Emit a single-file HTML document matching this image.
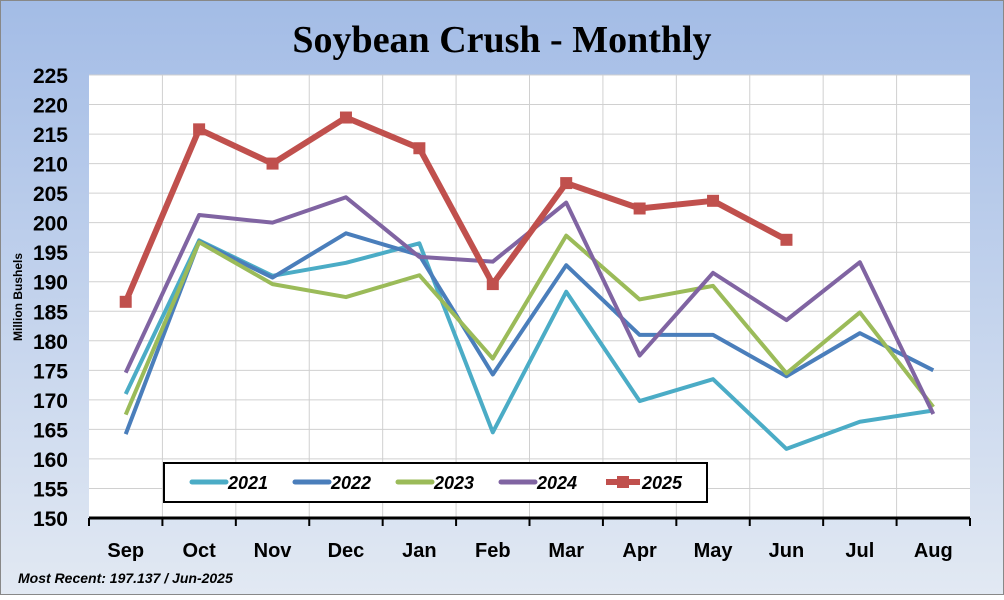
<!DOCTYPE html>
<html><head><meta charset="utf-8"><style>
body{margin:0;}
svg text{font-family:"Liberation Sans",sans-serif;}
</style></head><body>
<svg id="c" width="1004" height="595" xmlns="http://www.w3.org/2000/svg">
<defs><linearGradient id="bg" x1="0" y1="0" x2="0" y2="1"><stop offset="0" stop-color="#a3bce6"/><stop offset="1" stop-color="#e2e9f3"/></linearGradient></defs>
<rect x="0.5" y="0.5" width="1003" height="594" fill="url(#bg)" stroke="#888"/>
<text x="502" y="52" text-anchor="middle" font-size="38" font-weight="bold" style="font-family:'Liberation Serif',serif">Soybean Crush - Monthly</text>
<rect x="89" y="75" width="881" height="443" fill="#fff"/>
<g id="grid"></g>
<g id="axes"></g>
<g id="series"></g>
<text transform="translate(22,297) rotate(-90)" text-anchor="middle" font-size="12" font-weight="bold">Million Bushels</text>
<text x="18" y="583" font-size="14" font-weight="bold" font-style="italic">Most Recent: 197.137  / Jun-2025</text>
<g id="legend"></g>
</svg>
<script>
const categories=["Sep","Oct","Nov","Dec","Jan","Feb","Mar","Apr","May","Jun","Jul","Aug"];
const yTicks=[150,155,160,165,170,175,180,185,190,195,200,205,210,215,220,225];
const seriesNames=["2021","2022","2023","2024","2025"];
const seriesColors=["#4bacc6","#4a7ebb","#9bbb59","#8064a2","#c0504d"];
const s2021=[171,197,191,193.2,196.5,164.5,188.3,169.8,173.5,161.7,166.3,168.2];
const s2022=[164.2,196.8,190.7,198.2,194.5,174.3,192.8,181,181,174,181.3,175];
const s2023=[167.5,196.7,189.6,187.4,191.1,177,197.8,187,189.3,174.5,184.8,168.8];
const s2024=[174.6,201.3,200,204.3,194.2,193.4,203.4,177.5,191.5,183.5,193.3,167.6];
const s2025=[186.6,215.8,210,217.8,212.6,189.6,206.7,202.4,203.7,197.1];
const allSeries=[s2021,s2022,s2023,s2024,s2025];
const NS="http://www.w3.org/2000/svg";
const L=89,R=970,T=75,B=518,ymin=150,ymax=225;
const bw=(R-L)/categories.length;
const xs=i=>L+bw*(i+0.5);
const ys=v=>B-(v-ymin)/(ymax-ymin)*(B-T);
function mk(tag,attrs,parent,txt){const e=document.createElementNS(NS,tag);for(const k in attrs)e.setAttribute(k,attrs[k]);if(txt!==undefined)e.textContent=txt;parent.appendChild(e);return e;}
const grid=document.getElementById('grid'),axes=document.getElementById('axes'),ser=document.getElementById('series'),leg=document.getElementById('legend');
yTicks.forEach(v=>{
 const g=mk('line',{x1:L,x2:R,y1:ys(v),y2:ys(v),stroke:'#d0d0d0','stroke-width':1},grid);
 
 
 const t=mk('text',{x:68,y:ys(v)+8,'text-anchor':'end','font-size':21,'font-weight':'bold'},axes,v);
 
 
});
for(let i=1;i<categories.length;i++){
 const g=mk('line',{x1:L+bw*i,x2:L+bw*i,y1:T,y2:B,stroke:'#d0d0d0','stroke-width':1},grid);
 
 
}
const ax=mk('line',{x1:L,x2:R,y1:B,y2:B,stroke:'#000','stroke-width':3},axes);


for(let i=0;i<=categories.length;i++){
 const tk=mk('line',{x1:L+bw*i,x2:L+bw*i,y1:B,y2:B+8,stroke:'#000','stroke-width':2},axes);
 
 
}
categories.forEach((c,i)=>{
 const t=mk('text',{x:xs(i),y:557,'text-anchor':'middle','font-size':20,'font-weight':'bold'},axes,c);
 
 
});
allSeries.forEach((d,k)=>{
 const p=mk('polyline',{points:d.map((v,i)=>xs(i)+','+ys(v)).join(' '),fill:'none',stroke:seriesColors[k],'stroke-width':k===4?6:4,'stroke-linejoin':'round'},ser);
 
 
 if(k===4){d.forEach((v,i)=>{
  const m=mk('rect',{x:xs(i)-6,y:ys(v)-6,width:12,height:12,fill:seriesColors[k]},ser);
  
  
 });}
});
const lb=mk('rect',{x:164,y:463,width:543,height:39,fill:'#fff',stroke:'#000','stroke-width':2},leg);


const lx=[192,295,398,501,606];
seriesNames.forEach((n,k)=>{
 const ln=mk('line',{x1:lx[k],x2:lx[k]+34,y1:482,y2:482,stroke:seriesColors[k],'stroke-width':k===4?6:5,'stroke-linecap':k===4?'butt':'round'},leg);
 
 
 if(k===4){const m=mk('rect',{x:lx[k]+11,y:476,width:12,height:12,fill:seriesColors[k]},leg);
  
  }
 const t=mk('text',{x:lx[k]+36,y:489,'font-size':18,'font-weight':'bold','font-style':'italic'},leg,n);
 
 
});
</script>
</body></html>
